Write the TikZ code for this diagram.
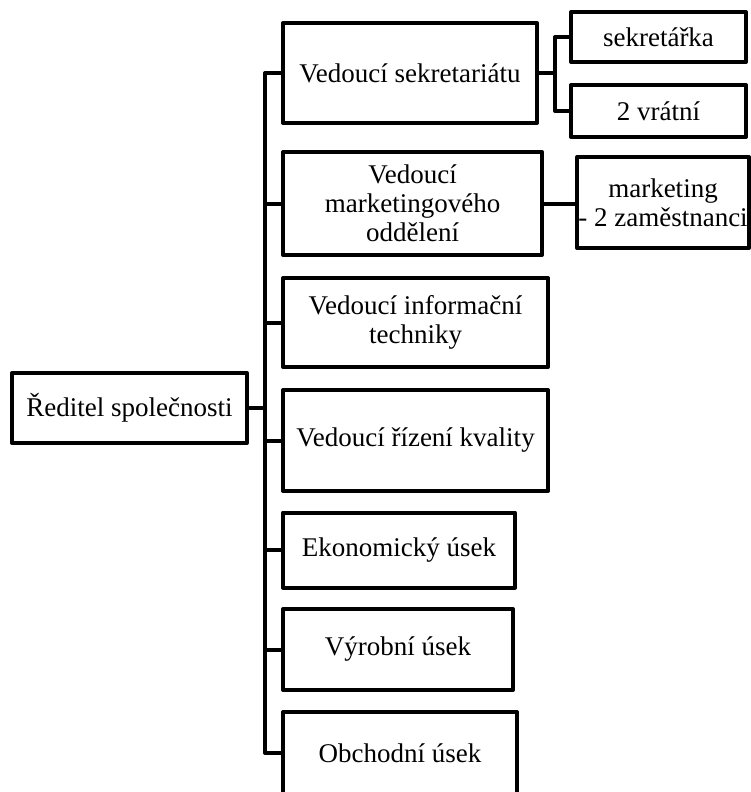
\documentclass[tikz,border=0pt]{standalone}
\usepackage{fontspec}
\setmainfont{Liberation Serif}
\begin{document}
\begin{tikzpicture}[x=1pt,y=-1pt,
  box/.style={draw=black,line width=4pt,line join=round,rectangle,inner sep=0pt,
    align=center,font=\fontsize{27}{29}\selectfont},
  conn/.style={draw=black,line width=4pt,line join=round}]
\useasboundingbox (0,0) rectangle (751,792);
% boxes
\node[box,minimum width=235pt,minimum height=70pt] (R) at (129.5,408) {Ředitel společnosti};
\node[box,minimum width=254pt,minimum height=100pt] (VS) at (410,73) {Vedoucí sekretariátu};
\node[box,minimum width=259pt,minimum height=103pt] (VM) at (412.5,203.5) {Vedoucí\\marketingového\\oddělení};
\node[box,minimum width=265pt,minimum height=89pt] (VI) at (415.5,322.5) {Vedoucí informační\\techniky};
\node[box,minimum width=265pt,minimum height=101pt] (VR) at (415.5,440.5) {Vedoucí řízení kvality};
\node[box,minimum width=232pt,minimum height=75pt] (EK) at (399,550) {Ekonomický úsek};
\node[box,minimum width=230pt,minimum height=81pt] (VY) at (398,649.5) {Výrobní úsek};
\node[box,minimum width=234pt,minimum height=82pt] (OB) at (400,753) {Obchodní úsek};
\node[box,minimum width=175pt,minimum height=50pt] (SK) at (658.5,37) {sekretářka};
\node[box,minimum width=175pt,minimum height=52pt] (V2) at (658.5,111) {2 vrátní};
\node[box,minimum width=172pt,minimum height=91pt] (MK) at (663,202.5) {marketing\\- 2 zaměstnanci};
% trunk coordinates
\coordinate (tx) at (265,0);
\coordinate (sx) at (555,0);
% main trunk
\draw[conn] (VS.west) -- (tx |- VS.west) -- (tx |- OB.west) -- (OB.west);
\draw[conn] (R.east) -- (tx |- R.east);
\draw[conn] (tx |- VM.west) -- (VM.west);
\draw[conn] (tx |- VI.west) -- (VI.west);
\draw[conn] (tx |- VR.west) -- (VR.west);
\draw[conn] (tx |- EK.west) -- (EK.west);
\draw[conn] (tx |- VY.west) -- (VY.west);
% secretariat branch
\draw[conn] (VS.east) -- (sx |- VS.east);
\draw[conn] (SK.west) -- (sx |- SK.west) -- (sx |- V2.west) -- (V2.west);
% marketing branch
\draw[conn] (VM.east) -- (VM.east -| MK.west);
\end{tikzpicture}
\end{document}
